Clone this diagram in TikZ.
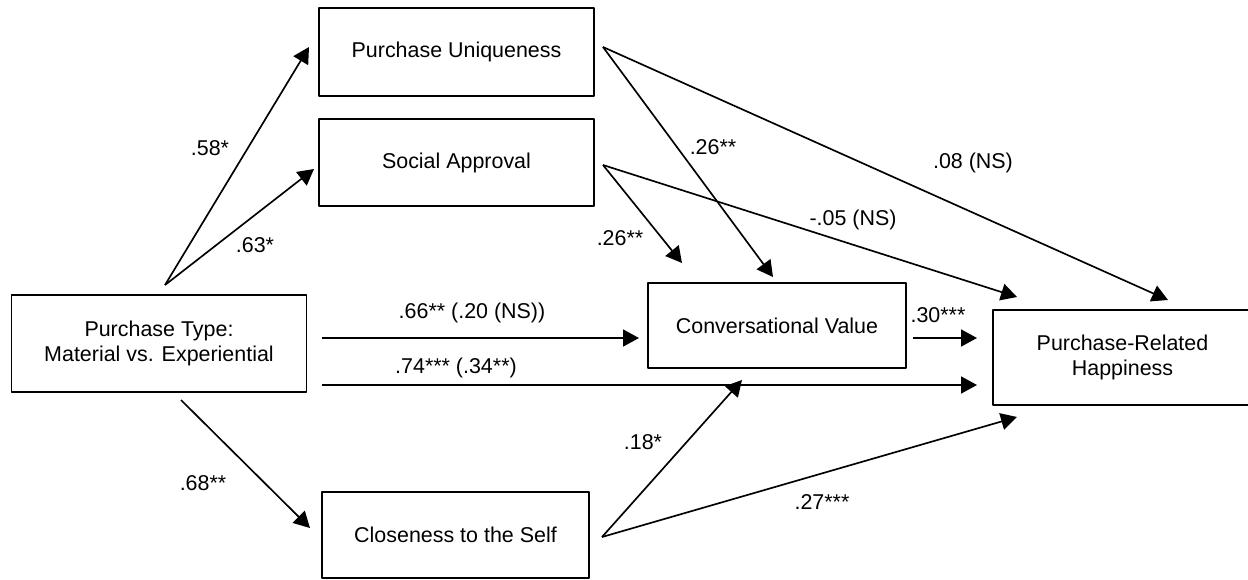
\documentclass[tikz,border=0pt]{standalone}
\usepackage{fontspec}
\setmainfont{Liberation Sans}
\usetikzlibrary{arrows.meta}
\tikzset{
  box/.style 2 args={draw, line width=1pt, inner sep=0pt, outer sep=0pt,
    minimum width=#1, minimum height=#2, align=center},
  path/.style={->, line width=0.95pt}
}
\begin{document}
\begin{tikzpicture}[x=0.02cm,y=-0.02cm,font=\fontsize{12.2}{14.5}\selectfont,line join=round,>={Triangle[length=3.2mm,width=3.4mm]}]
\useasboundingbox (0,0) rectangle (1248,579);
\node[box={5.5cm}{1.76cm}] (PU) at (456.5,52) {Purchase Uniqueness};
\node[box={5.5cm}{1.74cm}] (SA) at (456.5,162.5) {Social Approval};
\node[box={5.9cm}{1.94cm}] (PT) at (159,343.5) {Purchase Type:\\Material vs. Experiential};
\node[box={5.16cm}{1.7cm}] (CV) at (777,325.5) {Conversational Value};
\node[box={5.18cm}{1.9cm}] (PRH) at (1122.5,357.5) {Purchase-Related\\Happiness};
\node[box={5.34cm}{1.72cm}] (CS) at (455.5,535) {Closeness to the Self};
\path
(165,285) coordinate (PT_up)
(322,338) coordinate (PT_r1)
(322,385) coordinate (PT_r2)
(181,400) coordinate (PT_dn)
(309,47) coordinate (PU_in)
(314,169) coordinate (SA_in)
(310,528) coordinate (CS_in)
(603,47) coordinate (PU_out)
(603,165) coordinate (SA_out)
(602,537) coordinate (CS_out)
(913,338) coordinate (CV_out)
(639,338) coordinate (CV_l)
(773,277) coordinate (CV_t1)
(682,263) coordinate (CV_t2)
(742,380) coordinate (CV_b)
(977,338) coordinate (PRH_l1)
(977,385) coordinate (PRH_l2)
(1168,300) coordinate (PRH_t1)
(1017,297) coordinate (PRH_t2)
(1017,417) coordinate (PRH_b)
;
\foreach \a/\b in {PT_up/PU_in, PT_up/SA_in, PT_r1/CV_l, PT_r2/PRH_l2, PT_dn/CS_in,
  PU_out/CV_t1, PU_out/PRH_t1, SA_out/CV_t2, SA_out/PRH_t2, CV_out/PRH_l1,
  CS_out/CV_b, CS_out/PRH_b}
\draw[path] (\a)--(\b);
% path coefficients
\foreach \p/\t in {{210,148}/{.58*}, {255,245}/{.63*}, {472,313}/{.66** (.20 (NS))},
  {456,368}/{.74*** (.34**)}, {203,483}/{.68**}, {713,147}/{.26**}, {973,163}/{.08 (NS)},
  {620,238}/{.26**}, {853,220}/{-.05 (NS)}, {938,315}/{.30***}, {643,442}/{.18*},
  {822,502}/{.27***}}
\node (c) at (\p) {\t};
\end{tikzpicture}
\end{document}
